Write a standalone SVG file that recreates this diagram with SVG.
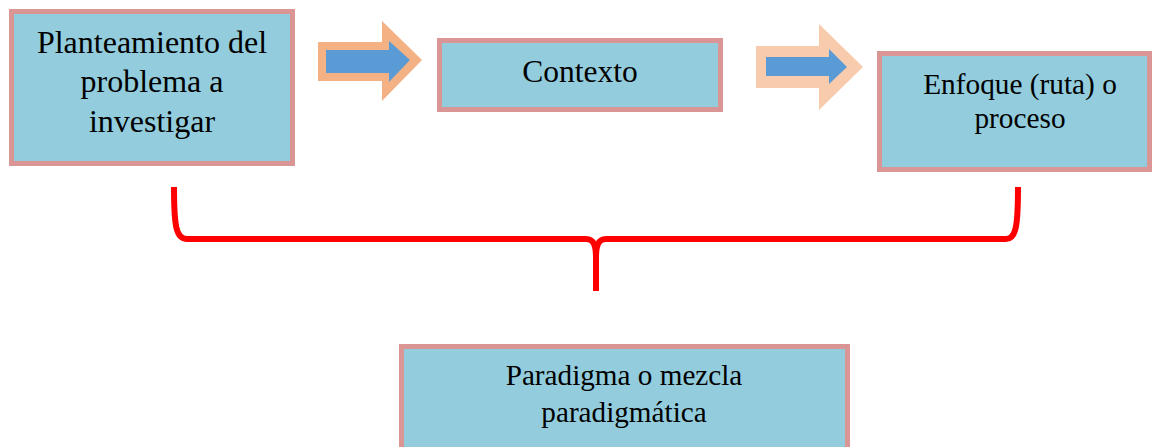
<svg xmlns="http://www.w3.org/2000/svg" width="1152" height="447" viewBox="0 0 1152 447">
<style>
.box{fill:#93CDDD;stroke:#D99694;stroke-width:5}
.t{font-family:"Liberation Serif","Times New Roman",serif;fill:#000;text-anchor:middle}
.brace{fill:none;stroke:#FF0000;stroke-width:6;stroke-linecap:butt;stroke-linejoin:round}
.blue{fill:#5B9BD5}
</style>
<rect width="1152" height="447" fill="#FFFFFF"/>
<g id="connectors">
<g id="arrow1">
<polygon points="318,42 382,42 382,21 422,60 382,101 382,81 318,81" fill="#F4B183"/>
<polygon class="blue" points="326,50 389,50 389,41 410,60 389,82 389,73 326,73"/>
</g>
<g id="arrow2">
<polygon points="756,46 819,46 819,24 863,67 819,110 819,88 756,88" fill="#F8CBAD"/>
<polygon class="blue" points="766,57 829,57 829,49 847,67 829,84 829,76 766,76"/>
</g>
<g id="brace">
<path class="brace" d="M174,187 C174,226 176,239 187,239 L586,239 C594,239 596,246 596,258 C596,246 598,239 606,239 L1006,239 C1016,239 1018,226 1018,187"/>
<path class="brace" d="M596,252 L596,291"/>
</g>
</g>
<g id="node1">
<rect class="box" x="11.5" y="11.5" width="281" height="152"/>
<text class="t" font-size="32" x="152" y="53">Planteamiento del</text>
<text class="t" font-size="32" x="152" y="92">problema a</text>
<text class="t" font-size="32" x="152" y="132">investigar</text>
</g>
<g id="node2">
<rect class="box" x="439.5" y="40.5" width="281" height="69"/>
<text class="t" font-size="31.5" x="580" y="82">Contexto</text>
</g>
<g id="node3">
<rect class="box" x="879.5" y="53.5" width="270" height="116"/>
<text class="t" font-size="29.3" x="1020" y="94">Enfoque (ruta) o</text>
<text class="t" font-size="29.3" x="1020" y="128">proceso</text>
</g>
<g id="node4">
<rect class="box" x="401.5" y="346.5" width="446" height="110"/>
<text class="t" font-size="29.2" x="624" y="385">Paradigma o mezcla</text>
<text class="t" font-size="29.2" x="624" y="422">paradigmática</text>
</g>
</svg>
